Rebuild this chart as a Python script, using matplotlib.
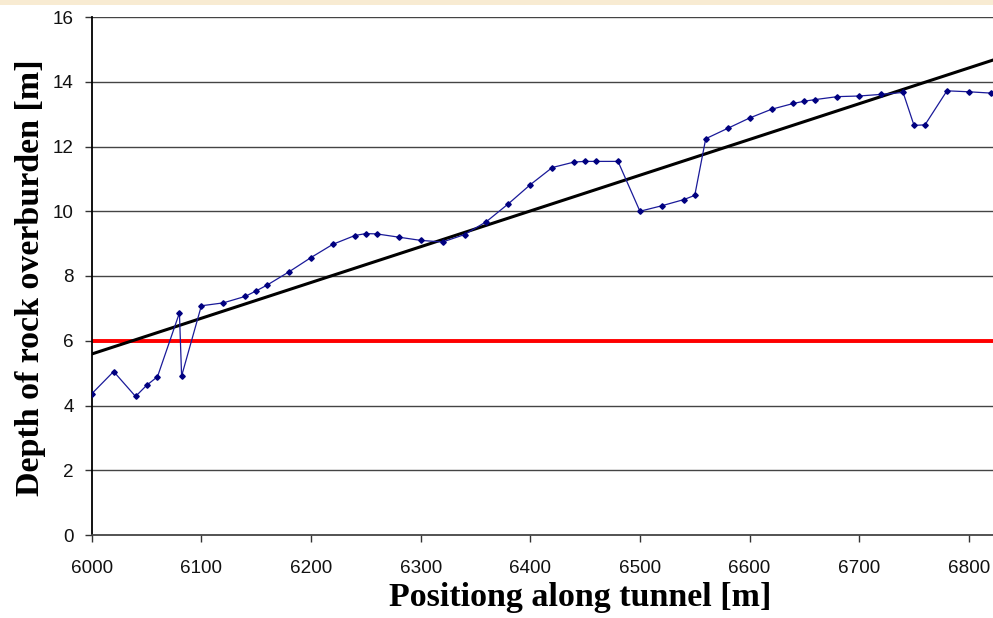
import numpy as np
import matplotlib.pyplot as plt
from matplotlib.patches import Rectangle

# measured overburden along the tunnel
position = [6000, 6020, 6040, 6050, 6060, 6080, 6082, 6100, 6120, 6140,
            6150, 6160, 6180, 6200, 6220, 6240, 6250, 6260, 6280, 6300,
            6320, 6340, 6360, 6380, 6400, 6420, 6440, 6450, 6460, 6480,
            6500, 6520, 6540, 6550, 6560, 6580, 6600, 6620, 6640, 6650,
            6660, 6680, 6700, 6720, 6740, 6750, 6760, 6780, 6800, 6820]
depth = [4.36, 5.05, 4.28, 4.62, 4.89, 6.86, 4.91, 7.08, 7.17, 7.37,
         7.54, 7.72, 8.13, 8.57, 8.98, 9.25, 9.31, 9.30, 9.20, 9.10,
         9.05, 9.28, 9.68, 10.23, 10.82, 11.35, 11.52, 11.54, 11.54, 11.54,
         10.00, 10.17, 10.36, 10.49, 12.24, 12.56, 12.88, 13.15, 13.33, 13.40,
         13.45, 13.54, 13.56, 13.61, 13.67, 12.65, 12.67, 13.72, 13.69, 13.65]

# linear trend line (end points)
trend_x = [6000, 6822]
trend_y = [5.59, 14.67]

# minimum required overburden
limit_depth = 6

xticks = [6000, 6100, 6200, 6300, 6400, 6500, 6600, 6700, 6800]
yticks = [0, 2, 4, 6, 8, 10, 12, 14, 16]

W, H = 993, 618
fig = plt.figure(figsize=(W / 100, H / 100), dpi=100)
fig.patch.set_facecolor('white')
fig.patches.append(Rectangle((0, 1 - 5 / H), 1, 5 / H, transform=fig.transFigure,
                             facecolor='#f8ebd2', edgecolor='none', zorder=0))

left, right, bottom, top = 91.7, 993, 535, 17
ax = fig.add_axes([left / W, 1 - bottom / H, (right - left) / W, (bottom - top) / H])

for y in yticks[1:]:
    ax.axhline(y, color='#444444', lw=1.0, zorder=1)

ax.axhline(limit_depth, color='#ff0000', lw=2.8, zorder=2)
ax.plot(trend_x, trend_y, color='black', lw=2.2, zorder=3)
ax.plot(position, depth, color='#1a1a99', lw=0.9, marker='D', ms=2.8,
        mfc='#000080', mec='#000080', zorder=4)

ax.set_xlim(6000, 6822)
ax.set_ylim(0, 16)
ax.set_xticks(xticks)
ax.set_yticks(yticks)

for s in ['top', 'right']:
    ax.spines[s].set_visible(False)
ax.spines['left'].set_color('black')
ax.spines['left'].set_linewidth(1.3)
ax.spines['bottom'].set_color('#444444')
ax.spines['bottom'].set_linewidth(1.3)

ax.tick_params(axis='both', direction='out', length=5, width=1, color='#333333',
               labelsize=13.6, labelcolor='#111111')
ax.tick_params(axis='x', pad=13)
ax.tick_params(axis='y', pad=8)
for lab in ax.get_xticklabels() + ax.get_yticklabels():
    lab.set_fontfamily('Liberation Sans')

ax.set_xlabel('Positiong along tunnel [m]', fontfamily='Liberation Serif',
              fontweight='bold', fontsize=24.5)
ax.set_ylabel('Depth of rock overburden [m]', fontfamily='Liberation Serif',
              fontweight='bold', fontsize=24.5)
ax.xaxis.set_label_coords(0.542, -0.09)
ax.yaxis.set_label_coords(-0.051, 0.497)

fig.savefig('out.png', dpi=100)
